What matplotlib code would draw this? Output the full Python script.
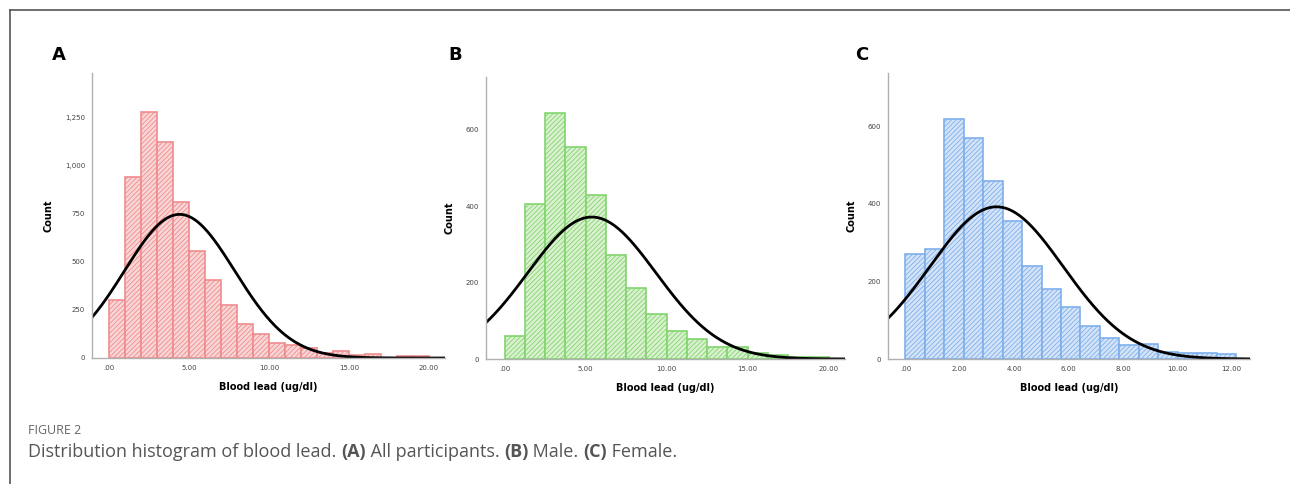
import numpy as np
import matplotlib
matplotlib.use("Agg")
import matplotlib.pyplot as plt

# panel A - all participants (bin width 1.0)
edges_a = np.arange(0, 21, 1.0)
counts_a = [300, 940, 1280, 1120, 810, 555, 405, 275, 178, 126,
            80, 66, 52, 25, 35, 17, 19, 2, 8, 8]
fit_a = (4.4, 3.45, 6450)  # mean, sd, n for the normal curve

# panel B - male (bin width 1.25)
edges_b = np.arange(0, 20.01, 1.25)
counts_b = [61, 405, 645, 555, 428, 272, 185, 117, 72, 53,
            32, 31, 17, 10, 4, 6]
fit_b = (5.38, 3.96, 2950)

# panel C - female (bin width ~0.715)
edges_c = np.arange(0, 17 * 0.715 + 0.001, 0.715)
counts_c = [270, 283, 619, 571, 459, 356, 241, 181, 134, 84,
            55, 36, 38, 19, 15, 16, 12]
fit_c = (3.35, 2.455, 3380)

panels = [
    ("A", edges_a, counts_a, fit_a, (-1.08, 21.0), (0, 1480), [0, 250, 500, 750, 1000, 1250],
     ["0", "250", "500", "750", "1,000", "1,250"], [0, 5, 10, 15, 20],
     "#ef8c8e", "#f9d6d6", [92, 445, 73, 358], 59),
    ("B", edges_b, counts_b, fit_b, (-1.15, 21.0), (0, 738), [0, 200, 400, 600],
     ["0", "200", "400", "600"], [0, 5, 10, 15, 20],
     "#82d46e", "#daf1d0", [486, 845, 77, 359], 455),
    ("C", edges_c, counts_c, fit_c, (-0.64, 12.67), (0, 738), [0, 200, 400, 600],
     ["0", "200", "400", "600"], [0, 2, 4, 6, 8, 10, 12],
     "#7eb0ec", "#d4e3f7", [888, 1250, 73, 359], 862),
]

W, H = 1290, 484
fig = plt.figure(figsize=(W / 100, H / 100), dpi=100)
fig.patch.set_facecolor("white")

# frame lines (top and left)
fig.add_artist(plt.Line2D([10 / W, 1], [1 - 10 / H, 1 - 10 / H], color="#555555", lw=1.2))
fig.add_artist(plt.Line2D([10 / W, 10 / W], [0, 1 - 10 / H], color="#555555", lw=1.2))

plt.rcParams["hatch.linewidth"] = 0.6

for letter, edges, counts, fit, xl, yl, yt, ytl, xt, ec, fc, box, lx in panels:
    x0, x1, y0, y1 = box
    ax = fig.add_axes([x0 / W, 1 - y1 / H, (x1 - x0) / W, (y1 - y0) / H])
    widths = np.diff(edges)
    ax.bar(edges[:-1], counts, width=widths, align="edge", color=fc,
           edgecolor=ec, linewidth=1.2, hatch="///////")
    mean, sd, n = fit
    xs = np.linspace(xl[0], xl[1], 400)
    ys = n * widths[0] / (sd * np.sqrt(2 * np.pi)) * np.exp(-0.5 * ((xs - mean) / sd) ** 2)
    ax.plot(xs, ys, color="black", lw=2.0)
    ax.set_xlim(*xl)
    ax.set_ylim(*yl)
    ax.set_yticks(yt)
    ax.set_yticklabels(ytl)
    ax.set_xticks(xt)
    ax.set_xticklabels([".00" if v == 0 else "%.2f" % v for v in xt])
    ax.tick_params(length=0, labelsize=5, colors="#444444", pad=5)
    for s in ["top", "right"]:
        ax.spines[s].set_visible(False)
    for s in ["left", "bottom"]:
        ax.spines[s].set_color("#b0b0b0")
        ax.spines[s].set_linewidth(1.0)
    ax.set_xlabel("Blood lead (ug/dl)", fontsize=7, fontweight="bold", labelpad=8)
    ax.set_ylabel("Count", fontsize=7, fontweight="bold", labelpad=8)
    fig.text(lx / W, 1 - 55 / H, letter, fontsize=13, fontweight="bold",
             ha="center", va="center")

fig.text(28 / W, 1 - 431 / H, "FIGURE 2", fontsize=9, color="#666666", va="center",
         family="Open Sans")
cap = [("Distribution histogram of blood lead. ", "normal"), ("(A)", "bold"),
       (" All participants. ", "normal"), ("(B)", "bold"), (" Male. ", "normal"),
       ("(C)", "bold"), (" Female.", "normal")]
x = 28 / W
r = fig.canvas.get_renderer()
for s, w in cap:
    t = fig.text(x, 1 - 452 / H, s, fontsize=13, color="#555555", va="center",
                 fontweight=w, family="Open Sans")
    bb = t.get_window_extent(renderer=r)
    x += bb.width / W

fig.savefig("out.png", dpi=100)
